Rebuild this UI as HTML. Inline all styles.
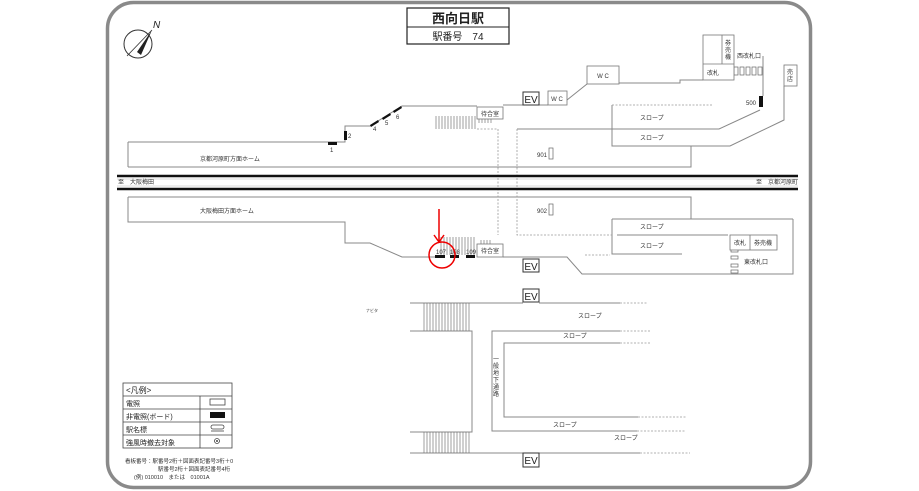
<!DOCTYPE html>
<html><head><meta charset="utf-8"><style>
html,body{margin:0;padding:0;background:#fff;}
svg{display:block;font-family:"Liberation Sans","Noto Sans CJK JP",sans-serif;}
</style></head><body>
<svg width="919" height="491" viewBox="0 0 919 491" xmlns="http://www.w3.org/2000/svg">
<rect x="107.5" y="2.5" width="703" height="485" rx="26" fill="#fff" stroke="#8a8a8a" stroke-width="3.5"/>
<!-- title -->
<rect x="407" y="8" width="102" height="36" fill="#fff" stroke="#222" stroke-width="1.2"/>
<line x1="407" y1="27" x2="509" y2="27" stroke="#222" stroke-width="1"/>
<text x="458" y="23" font-size="13" font-weight="bold" text-anchor="middle" fill="#222">西向日駅</text>
<text x="458" y="40" font-size="10" text-anchor="middle" fill="#222">駅番号　74</text>
<!-- compass -->
<circle cx="138" cy="44" r="14" fill="none" stroke="#333" stroke-width="1"/>
<polygon points="152,30 137,52 141,55" fill="#222"/>
<line x1="127" y1="56" x2="152" y2="30" stroke="#333" stroke-width="0.8"/>
<text x="153" y="28" font-size="10" font-style="italic" fill="#222">N</text>
<g stroke="#888" stroke-width="1" fill="none">
<!-- upper platform -->
<polyline points="128,142 345,142 345,126 370,126 402,106 477,106"/>
<line x1="128" y1="142" x2="128" y2="167"/>
<polyline points="128,167 691,167 691,146"/>
<line x1="503" y1="105" x2="523" y2="105"/>
<line x1="539" y1="105" x2="548" y2="105"/>
<polyline points="567,100 587,84"/>
<polyline points="619,83 680,83 680,80 703,80"/>
<polyline points="612,105 612,146 730,146 784,120 784,86"/>
<polyline points="517,129 719,129 760,110"/>
<line x1="763" y1="56" x2="763" y2="96"/>
<!-- lower platform -->
<polyline points="128,197 691,197 691,219"/>
<polyline points="128,197 128,222 345,222 345,243 370,243 402,257 437,257"/>
<polyline points="503,257 567,257 582,274 793,274 793,219"/>
<polyline points="612,219 612,254 682,254"/>
<line x1="612" y1="219" x2="793" y2="219"/>
<line x1="617" y1="235" x2="728" y2="235"/>
<!-- underground -->
<line x1="410" y1="303" x2="523" y2="303"/><line x1="539" y1="303" x2="620" y2="303"/>
<polyline points="410,331 472,331 472,432 410,432"/>
<line x1="410" y1="453" x2="640" y2="453"/>
<polyline points="620,331 492,331 492,431 637,431"/>
<polyline points="620,343 504,343 504,417 638,417"/>
</g>
<g stroke="#999" stroke-width="0.8" fill="none" stroke-dasharray="2,1.5">
<polyline points="477,129 498,129 498,235"/>
<polyline points="517,129 517,235 612,235"/>
<line x1="612" y1="105" x2="712" y2="105"/>
<line x1="585" y1="255" x2="610" y2="255"/>
<line x1="620" y1="303" x2="648" y2="303"/>
<line x1="620" y1="331" x2="650" y2="331"/>
<line x1="620" y1="343" x2="650" y2="343"/>
<line x1="638" y1="417" x2="687" y2="417"/>
<line x1="637" y1="431" x2="685" y2="431"/>
<line x1="640" y1="453" x2="690" y2="453"/>
</g>
<!-- tracks -->
<line x1="117" y1="176" x2="798" y2="176" stroke="#111" stroke-width="2.5"/>
<line x1="117" y1="189" x2="798" y2="189" stroke="#111" stroke-width="2.5"/>
<line x1="117" y1="179" x2="798" y2="179" stroke="#bbb" stroke-width="0.6"/>
<line x1="117" y1="186" x2="798" y2="186" stroke="#bbb" stroke-width="0.6"/>
<g font-size="6" fill="#333">
<text x="118" y="184">至　大阪梅田</text>
<text x="798" y="184" text-anchor="end">至　京都河原町</text>
<text x="200" y="161">京都河原町方面ホーム</text>
<text x="200" y="213">大阪梅田方面ホーム</text>
<text x="330" y="152">1</text><text x="348" y="138">2</text><text x="373" y="131">4</text><text x="385" y="125">5</text><text x="396" y="119">6</text>
<text x="537" y="157">901</text><text x="537" y="213">902</text>
<text x="436" y="254">107</text><text x="450" y="254">108</text><text x="466" y="254">109</text>
<text x="640" y="120">スロープ</text><text x="640" y="140">スロープ</text>
<text x="640" y="229">スロープ</text><text x="640" y="248">スロープ</text>
<text x="578" y="318">スロープ</text><text x="563" y="338">スロープ</text>
<text x="553" y="427">スロープ</text><text x="614" y="440">スロープ</text>
<text x="744" y="264">東改札口</text><text x="737" y="58">西改札口</text>
<text x="746" y="105">500</text>
<text x="366" y="312" font-size="4">ナビタ</text>
</g>
<!-- boards -->
<g fill="#111">
<rect x="328" y="142" width="9" height="3"/><rect x="344" y="131" width="3" height="9"/>
<polygon points="370,125 378,120 379,122 371,127"/><polygon points="382,118 390,113 391,115 383,120"/><polygon points="393,111 401,106 402,108 394,113"/>
<rect x="435" y="255" width="10" height="3"/><rect x="450" y="255" width="9" height="3"/><rect x="466" y="255" width="9" height="3"/>
<rect x="759" y="96" width="4" height="11"/>
</g>
<g fill="#fff" stroke="#666" stroke-width="0.7">
<rect x="549" y="148" width="4" height="11"/><rect x="549" y="204" width="4" height="11"/>
<rect x="734" y="67" width="4" height="8"/><rect x="740" y="67" width="4" height="8"/><rect x="746" y="67" width="4" height="8"/><rect x="752" y="67" width="4" height="8"/><rect x="758" y="67" width="4" height="8"/>
<rect x="731" y="249" width="7" height="3"/><rect x="731" y="256" width="7" height="3"/><rect x="731" y="264" width="7" height="3"/><rect x="731" y="270" width="7" height="3"/>
</g>
<!-- stairs -->
<g stroke="#777" stroke-width="0.7">
<path d="M436 116v13M439 116v13M442 116v13M445 116v13M448 116v13M451 116v13M454 116v13M457 116v13M460 116v13M463 116v13M466 116v13M469 116v13M472 116v13M475 116v13"/>
<path d="M479 119v4M482 119v4M485 119v4M488 119v4M491 119v4"/>
<path d="M441 237v18M444 237v18M447 237v18M450 237v18M453 237v18M456 237v18M459 237v18M462 237v18M465 237v18M468 237v18M471 237v18M474 237v18"/>
<path d="M481 240v4M484 240v4M487 240v4M490 240v4"/>
<path d="M424 303v28M427 303v28M430 303v28M433 303v28M436 303v28M439 303v28M442 303v28M445 303v28M448 303v28M451 303v28M454 303v28M457 303v28M460 303v28M463 303v28M466 303v28M469 303v28"/>
<path d="M424 432v21M427 432v21M430 432v21M433 432v21M436 432v21M439 432v21M442 432v21M445 432v21M448 432v21M451 432v21M454 432v21M457 432v21M460 432v21M463 432v21M466 432v21M469 432v21"/>
</g>
<!-- boxes -->
<g fill="#fff" stroke="#777" stroke-width="0.8">
<rect x="477" y="107" width="26" height="12"/><rect x="477" y="244" width="26" height="13"/>
<rect x="548" y="91" width="19" height="14"/><rect x="587" y="66" width="32" height="18"/>
<rect x="703" y="35" width="31" height="45"/><rect x="784" y="65" width="13" height="21"/>
<rect x="730" y="235" width="47" height="15"/>
</g>
<g stroke="#777" stroke-width="0.8"><line x1="703" y1="64" x2="734" y2="64"/><line x1="722" y1="35" x2="722" y2="64"/><line x1="750" y1="235" x2="750" y2="250"/></g>
<g fill="#fff" stroke="#333" stroke-width="1">
<rect x="523" y="92" width="16" height="13"/><rect x="523" y="259" width="16" height="13"/><rect x="523" y="289" width="16" height="13"/><rect x="523" y="453" width="16" height="14"/>
</g>
<g font-size="10" fill="#222" text-anchor="middle">
<text x="531" y="103">EV</text><text x="531" y="270">EV</text><text x="531" y="300">EV</text><text x="531" y="464">EV</text>
</g>
<g font-size="6" fill="#333" text-anchor="middle">
<text x="490" y="116">待合室</text><text x="490" y="253">待合室</text>
<text x="557" y="101">W C</text><text x="603" y="78">W C</text>
<text x="713" y="75">改札</text><text x="740" y="245">改札</text><text x="763" y="245">券売機</text>
<text x="728" y="45">券</text><text x="728" y="52">売</text><text x="728" y="59">機</text>
<text x="790" y="74">売</text><text x="790" y="81">店</text>
<text x="496" y="361">一</text><text x="496" y="368">般</text><text x="496" y="375">地</text><text x="496" y="382">下</text><text x="496" y="389">通</text><text x="496" y="396">路</text>
</g>
<!-- red -->
<circle cx="442" cy="255" r="13" fill="none" stroke="#e00" stroke-width="1.5"/>
<line x1="439" y1="209" x2="439" y2="241" stroke="#e00" stroke-width="1.5"/>
<polyline points="434,235 439,242 444,235" fill="none" stroke="#e00" stroke-width="1.5"/>
<!-- legend -->
<g fill="none" stroke="#444" stroke-width="0.8">
<rect x="123" y="383" width="109" height="65"/>
<line x1="123" y1="396" x2="232" y2="396"/><line x1="123" y1="409" x2="232" y2="409"/><line x1="123" y1="422" x2="232" y2="422"/><line x1="123" y1="435" x2="232" y2="435"/>
<line x1="200" y1="396" x2="200" y2="448"/>
<rect x="210" y="399" width="15" height="6"/>
<rect x="211" y="425" width="13" height="4" rx="2"/><line x1="211" y1="431" x2="224" y2="431"/>
<circle cx="217" cy="441" r="2.5"/>
</g>
<rect x="210" y="412" width="15" height="6" fill="#111"/>
<circle cx="217" cy="441" r="1" fill="#444"/>
<g font-size="7" fill="#222">
<text x="126" y="393" font-size="8">&lt;凡例&gt;</text>
<text x="126" y="406">電照</text><text x="126" y="419">非電照(ボード)</text><text x="126" y="432">駅名標</text><text x="126" y="445">強風時撤去対象</text>
</g>
<g font-size="5.5" fill="#333">
<text x="125" y="463">看板番号：駅番号2桁＋図面表記番号3桁＋0</text>
<text x="158" y="471">駅番号2桁＋図面表記番号4桁</text>
<text x="134" y="479">(例) 010010　または　01001A</text>
</g>
</svg>
</body></html>
